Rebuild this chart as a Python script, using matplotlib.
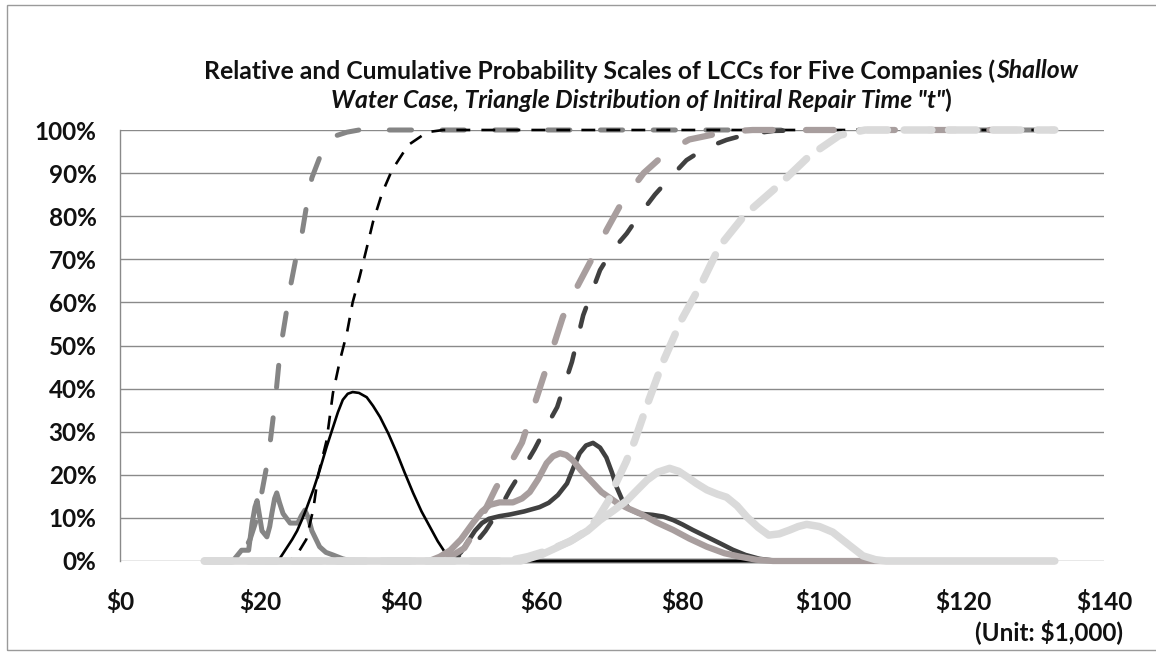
import matplotlib
matplotlib.use("Agg")
import matplotlib.pyplot as plt
from matplotlib.patches import Rectangle

plt.rcParams["font.family"] = ["Lato", "DejaVu Sans"]
plt.rcParams["lines.scale_dashes"] = False

# --- data: LCC in $1,000, probability in % -----------------------------------
# relative probability (solid lines)
rel1_x = [12, 16, 16.4, 17.3, 18.3, 18.8, 19.2, 19.5, 19.9, 20.2, 20.9, 21.3, 21.6, 22.0,
          22.3, 22.7, 23.2, 24.2, 25.3, 25.8, 26.3, 26.8, 27.3, 28.4, 29.3, 30.3, 31.7, 33, 133]
rel1_y = [0, 0, 0.7, 2.5, 2.5, 8.8, 12.5, 14, 10, 7, 5.6, 8, 11, 14.5,
          15.8, 13.5, 11, 8.8, 8.8, 10.5, 11.8, 10, 7, 3.3, 2.0, 1.4, 0.5, 0, 0]
rel2_x = [12, 22.5, 23.5, 24.5, 25.2, 26, 26.6, 27.5, 28.4, 29.4, 30.3, 31, 31.7, 32.4,
          33.1, 34, 35.1, 36, 37, 38.2, 39.4, 40.5, 41.7, 42.9, 44.1, 45.2, 46.2, 47, 47.5, 133]
rel2_y = [0, 0, 2.5, 5, 7, 10, 12.5, 16.5, 21, 26.5, 31, 34.5, 37.4, 38.8,
          39.2, 39, 38, 36, 33.4, 29.5, 25, 20.5, 15.8, 11.5, 7.9, 4.6, 2.1, 0.5, 0, 0]
rel3_x = [12, 46, 47.4, 48.5, 49.5, 50.5, 51.5, 52.5, 54, 55.5, 57.5, 59.7, 61, 62.3,
          63.6, 64.6, 65.4, 66.3, 67.3, 68.3, 69.2, 70, 70.7, 71.5, 72.5, 73.8, 75.8, 77.3,
          78.7, 80, 81.5, 83.5, 85.5, 87.2, 89, 91, 93, 95, 133]
rel3_y = [0, 0, 0.5, 2, 4.5, 7, 8.8, 9.8, 10.4, 10.8, 11.5, 12.5, 13.5, 15.3,
          18, 22, 25, 26.8, 27.4, 26.3, 24, 20.5, 17, 14, 12, 11, 10.7, 10.3,
          9.5, 8.5, 7.2, 5.6, 4, 2.6, 1.4, 0.5, 0.1, 0, 0]
rel4_x = [12, 44, 45.5, 47, 48.5, 50.2, 51.5, 52.6, 54, 55.9, 57.2, 58.3, 59.5, 60.7,
          61.6, 62.6, 63.5, 64.4, 65.6, 66.9, 68.5, 70.7, 72.3, 74, 76.3, 78.7, 81,
          83.5, 86, 88.2, 90.5, 92.9, 133]
rel4_y = [0, 0, 1, 2.5, 5, 8.8, 11.5, 13, 13.6, 13.6, 14.5, 16, 19, 22.7,
          24.3, 25, 24.6, 23.4, 21, 18.8, 16, 13.5, 12.2, 11, 9, 7.2, 5.2,
          3.3, 1.8, 1, 0.3, 0, 0]
rel5_x = [12, 57, 60, 62, 64.4, 66.5, 68.3, 70.2, 72.1, 73.6, 75, 76.5, 78.2, 79.5,
          80.7, 82, 83.5, 85, 86.3, 87.8, 89.2, 90.8, 92.3, 93.8, 95.3, 96.5, 97.7, 99.5,
          101.4, 103.5, 105.7, 107.5, 109, 133]
rel5_y = [0, 0, 1.5, 3, 4.9, 7, 9.5, 11.7, 14, 16.5, 18.8, 20.6, 21.5, 20.8,
          19.5, 18, 16.5, 15.5, 14.8, 12.8, 10.2, 7.8, 6, 6.3, 7.2, 8, 8.5, 8,
          6.7, 4, 1.2, 0.3, 0, 0]

# cumulative probability (dashed lines)
cum1_x = [12, 16, 17.5, 18.5, 19.5, 20.3, 21.1, 22.1, 22.8, 23.5, 24.2, 25, 25.9,
          26.6, 27.3, 28.5, 30.2, 32.3, 34, 133]
cum1_y = [0, 0, 2, 5, 10, 17, 24, 37.4, 49, 56, 63.3, 70, 76,
          83, 88.9, 94, 98.4, 99.5, 100, 100]
cum2_x = [12, 24, 25, 26.5, 27.5, 28.2, 29.4, 30.3, 31.3, 32.3, 33.1, 34.1, 35.1,
          36, 37.3, 38.7, 41, 43.7, 46, 133]
cum2_y = [0, 0, 1, 5, 12, 20, 28, 39, 46.6, 53, 60, 66, 72.6,
          78.7, 85.4, 90.7, 96.5, 99.5, 100, 100]
cum3_x = [12, 46, 48, 50, 52, 54, 55.5, 57.2, 59, 60.6, 62.2, 64.3, 65.9, 68.3,
          70, 72.1, 74, 76.1, 78.3, 80.6, 83.3, 86.3, 89.2, 93, 100, 133]
cum3_y = [0, 0, 1, 3, 7, 12, 16.5, 21, 26, 31, 35.7, 46.2, 57, 67.5,
          72, 76, 80.5, 85, 89, 93, 95.8, 97.7, 99, 99.8, 100, 100]
cum4_x = [12, 45, 47, 49, 50.5, 52, 53.5, 55.5, 57.2, 58.5, 60, 61.5, 63, 65,
          67.1, 69.3, 71.5, 74.5, 77.9, 81, 86.3, 90, 133]
cum4_y = [0, 0, 1, 3, 7, 12, 17, 22.5, 27.5, 34, 41.5, 49, 56.6, 63.5,
          70, 77, 83.5, 90, 95, 97.8, 99.6, 100, 100]
cum5_x = [12, 55, 58, 61, 64, 66.4, 68, 69.5, 70.7, 72, 73.2, 75.1, 77.2, 79.9,
          82.8, 85.3, 88.9, 93.6, 98.1, 102.4, 106, 133]
cum5_y = [0, 0, 1, 2.5, 4.5, 7, 10, 14, 18.5, 23, 27.8, 36.7, 46, 56,
          64.6, 73, 80.3, 87, 94, 98.8, 100, 100]

x_ticks = [0, 20, 40, 60, 80, 100, 120, 140]
x_tick_labels = ["$0", "$20", "$40", "$60", "$80", "$100", "$120", "$140"]
y_ticks = [0, 10, 20, 30, 40, 50, 60, 70, 80, 90, 100]
y_tick_labels = ["0%", "10%", "20%", "30%", "40%", "50%", "60%", "70%", "80%", "90%", "100%"]

# per company: colour, line width (pt), dash pattern (pt) for the cumulative line
STYLE = [
    ("#858585", 3.6, (16, 22)),
    ("#000000", 1.9, (10, 8)),
    ("#404040", 3.3, (14, 20)),
    ("#a89e9e", 4.5, (20, 24)),
    ("#dadada", 5.4, (20, 12)),
]
GRID = "#8a8a8a"
INK = "#111111"
W, H = 1156, 655

rels = [(rel1_x, rel1_y), (rel2_x, rel2_y), (rel3_x, rel3_y), (rel4_x, rel4_y), (rel5_x, rel5_y)]
cums = [(cum1_x, cum1_y), (cum2_x, cum2_y), (cum3_x, cum3_y), (cum4_x, cum4_y), (cum5_x, cum5_y)]

fig = plt.figure(figsize=(W / 100, H / 100), dpi=100)
ax = fig.add_axes([120 / W, 1 - 561 / H, (1104 - 120) / W, (561 - 130) / H])

for k, ((rx, ry), (cx, cy), (color, lw, dash)) in enumerate(zip(rels, cums, STYLE)):
    cap = "butt" if k == 1 else "round"
    ax.plot(rx, ry, color=color, lw=lw, solid_capstyle="round", solid_joinstyle="round",
            clip_on=False, zorder=3 + k)
    ax.plot(cx, cy, color=color, lw=lw, linestyle=(0, dash), dash_capstyle=cap,
            clip_on=False, zorder=3 + k)

ax.set_xlim(0, 140)
ax.set_ylim(0, 100)
ax.set_xticks(x_ticks)
ax.set_xticklabels(x_tick_labels)
ax.set_yticks(y_ticks)
ax.set_yticklabels(y_tick_labels)
ax.tick_params(length=0, labelsize=17.5, colors=INK)
ax.tick_params(axis="y", pad=17)
ax.tick_params(axis="x", pad=21)
for lab in ax.get_xticklabels() + ax.get_yticklabels():
    lab.set_fontweight("bold")
ax.grid(axis="y", color=GRID, lw=1.0)
ax.set_axisbelow(True)
for s in ("top", "right", "bottom"):
    ax.spines[s].set_visible(False)
ax.spines["left"].set_color(GRID)
ax.spines["left"].set_linewidth(1.0)

fig.text(1123 / W, 1 - 632 / H, "(Unit: $1,000)", ha="right", va="center",
         fontsize=17.5, fontweight="bold", color=INK)

# title: mixed upright / italic pieces, each line centred
def title_line(pieces, y, xc=641):
    r = fig.canvas.get_renderer()
    texts = [fig.text(0, 1 - y / H, s, style=st, fontsize=17.8, fontweight="bold",
                      va="center", color=INK) for s, st in pieces]
    widths = [t.get_window_extent(r).width for t in texts]
    x = xc - sum(widths) / 2
    for t, w in zip(texts, widths):
        t.set_x(x / W)
        x += w

title_line([("Relative and Cumulative Probability Scales of LCCs for Five Companies (", "normal"),
            ("Shallow", "italic")], 71)
title_line([('Water Case, Triangle Distribution of Initiral Repair Time "t"', "italic"),
            (")", "normal")], 100)

# outer chart-area border (right edge runs off the scan)
fig.patches.append(Rectangle((7 / W, 1 - 650 / H), (1170 - 7) / W, (650 - 5) / H,
                             transform=fig.transFigure, fill=False, ec="#9a9a9a", lw=1.0))

fig.savefig("out.png", dpi=100, facecolor="white")
